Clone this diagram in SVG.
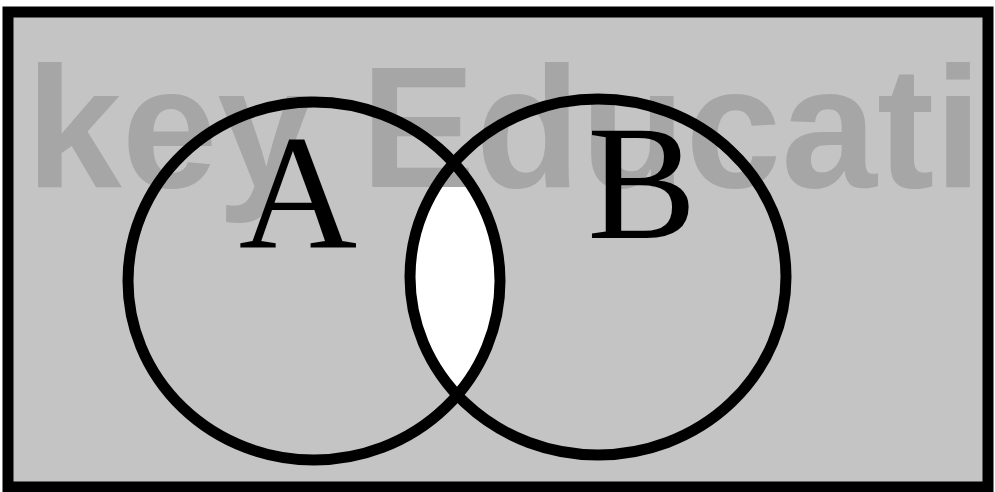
<svg xmlns="http://www.w3.org/2000/svg" width="995" height="492" viewBox="0 0 995 492">
  <style>
    .set { fill: none; stroke: #000; stroke-width: 11; }
    .label { font-family: "Liberation Serif", "Times New Roman", serif; font-size: 164px; fill: #000; text-anchor: middle; }
    .wm { font-family: "Liberation Sans", Arial, sans-serif; font-weight: bold; font-size: 172px; fill: #a6a6a6; }
  </style>
  <defs>
    <clipPath id="clipB">
      <ellipse cx="598" cy="277" rx="188" ry="178"/>
    </clipPath>
    <clipPath id="belowWm">
      <rect x="0" y="187" width="995" height="305"/>
    </clipPath>
    <clipPath id="inner">
      <rect x="8" y="12" width="980" height="475"/>
    </clipPath>
  </defs>
  <rect width="995" height="492" fill="#ffffff"/>
  <g id="universe">
    <rect x="8" y="12" width="980" height="475" fill="#c4c4c4"/>
  </g>
  <g id="intersection" clip-path="url(#belowWm)">
    <ellipse cx="314" cy="281" rx="186" ry="179" fill="#ffffff" clip-path="url(#clipB)"/>
  </g>
  <g id="watermark" clip-path="url(#inner)">
    <text class="wm" x="26" y="187">key Educatio</text>
  </g>
  <g id="setA">
    <ellipse class="set" cx="314" cy="281" rx="186" ry="179"/>
    <text class="label" x="298" y="247">A</text>
  </g>
  <g id="setB">
    <ellipse class="set" cx="598" cy="277" rx="188" ry="178"/>
    <text class="label" x="642" y="238">B</text>
  </g>
  <g id="connectors"></g>
  <g id="frame">
    <rect x="8" y="12" width="980" height="475" fill="none" stroke="#000" stroke-width="11"/>
  </g>
</svg>
